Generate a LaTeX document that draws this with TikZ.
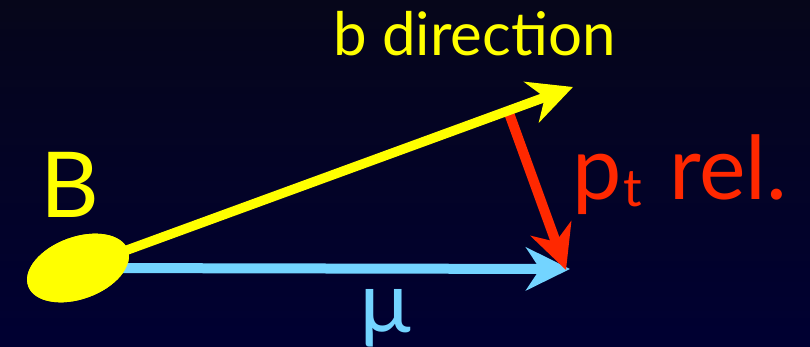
\documentclass[tikz,border=0pt]{standalone}
\usepackage{fontspec}
\setmainfont{Lato}
\usetikzlibrary{arrows.meta,shapes.geometric,calc}
\definecolor{ylw}{RGB}{255,255,0}
\definecolor{sky}{RGB}{115,212,255}
\definecolor{rd}{RGB}{255,40,0}
\definecolor{bgtop}{RGB}{6,6,26}
\definecolor{bgbot}{RGB}{0,0,50}
\begin{document}
\begin{tikzpicture}[x=1pt,y=1pt,
  vec/.style={-{Stealth[length=44pt,width=43pt,inset=14pt]}},
  lbl/.style={inner sep=0pt, anchor=base west}]
\shade[top color=bgtop,bottom color=bgbot] (0,0) rectangle (810,347);
\useasboundingbox (0,0) rectangle (810,347);
% B meson
\node[ellipse, fill=ylw, minimum width=106pt, minimum height=62pt, inner sep=0pt, rotate=20] (bmeson) at (78,79) {};
\coordinate (ytip) at (573,260);
\coordinate (btip) at (570,78);
\coordinate (rtip) at (566,77);
\coordinate (rstart) at ($(bmeson.center)!0.869!(ytip)$);
% vectors
\draw[vec, sky, line width=10pt] (bmeson.center) -- (btip);
\draw[vec, rd, line width=10pt] (rstart) -- (rtip);
\draw[vec, ylw, line width=9.5pt] (bmeson.center) -- (ytip);
\node[ellipse, fill=ylw, minimum width=106pt, minimum height=62pt, inner sep=0pt, rotate=20] at (bmeson) {};
% labels
\node[lbl, text=ylw, font=\fontsize{60}{60}\selectfont] (bdir) at (333,291) {b direction};
\node[lbl, text=ylw, font=\fontsize{91}{91}\selectfont] (blabel) at (40,129) {B};
\node[lbl, text=rd, font=\fontsize{88}{88}\selectfont] (ptrel) at (572,147)
  {\makebox[51pt][l]{p}\makebox[46pt][l]{\raisebox{-7pt}{\fontsize{52}{52}\selectfont t}}rel.};
\node[lbl, text=sky, font=\fontsize{85}{85}\selectfont] (mu) at (358,14) {µ};
\end{tikzpicture}
\end{document}
